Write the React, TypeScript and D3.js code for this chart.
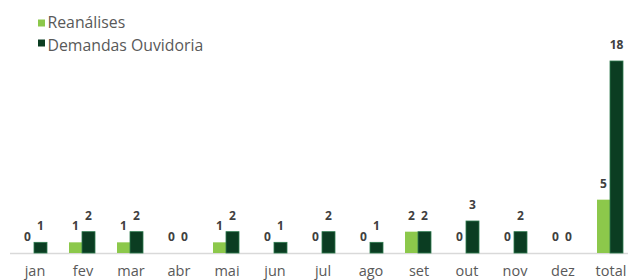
import React from "react";
import * as d3 from "d3";

const categories = ["jan", "fev", "mar", "abr", "mai", "jun", "jul", "ago", "set", "out", "nov", "dez", "total"];
const reanalises = [0, 1, 1, 0, 1, 0, 0, 0, 2, 0, 0, 0, 5];
const demandas = [1, 2, 2, 0, 2, 1, 2, 1, 2, 3, 2, 0, 18];
const seriesNames = ["Reanálises", "Demandas Ouvidoria"];
const seriesColors = ["#8cc84b", "#0b3d22"];

export default function App() {
  const W = 628, H = 280;
  const x = d3.scaleBand<string>().domain(categories).range([10, 634]).paddingInner(0).paddingOuter(0);
  const inner = d3.scaleBand<string>().domain(seriesNames).range([x.bandwidth() / 2 - 13, x.bandwidth() / 2 + 13]);
  const y = d3.scaleLinear().domain([0, 18]).range([253, 61]);
  const data = [reanalises, demandas];
  const font = "'Open Sans', 'DejaVu Sans', sans-serif";
  return (
    <svg width={W} height={H} style={{ position: "absolute", left: 0, top: 0 }} fontFamily={font}>
      <rect width={W} height={H} fill="#fff" />
      {seriesNames.map((s, si) => (
        <g key={s}>
          <rect x={38} y={si === 0 ? 19.5 : 39.5} width={7} height={7} fill={seriesColors[si]} />
          <text x={47.5} y={si === 0 ? 28 : 51} fontSize={15.8} fill="#595959">{s}</text>
        </g>
      ))}
      <line x1={10} x2={628} y1={253.5} y2={253.5} stroke="#d9d9d9" strokeWidth={1.5} />
      {categories.map((c, i) => (
        <g key={c}>
          {seriesNames.map((s, si) => {
            const v = data[si][i];
            const bx = (x(c) as number) + (inner(s) as number);
            const bw = inner.bandwidth();
            return (
              <g key={s}>
                {v > 0 && (
                  <rect x={bx} y={y(v)} width={bw} height={y(0) - y(v)} fill={seriesColors[si]}
                    stroke={si === 1 ? "#2e7a4e" : "none"} strokeWidth={si === 1 ? 0.8 : 0} />
                )}
                <text x={bx + bw / 2} y={y(v) - 12} textAnchor="middle" fontSize={12} fontWeight={700} fill="#404040">{v}</text>
              </g>
            );
          })}
          <text x={(x(c) as number) + x.bandwidth() / 2 + 1} y={276} textAnchor="middle" fontSize={14.5} fill="#595959">{c}</text>
        </g>
      ))}
    </svg>
  );
}
